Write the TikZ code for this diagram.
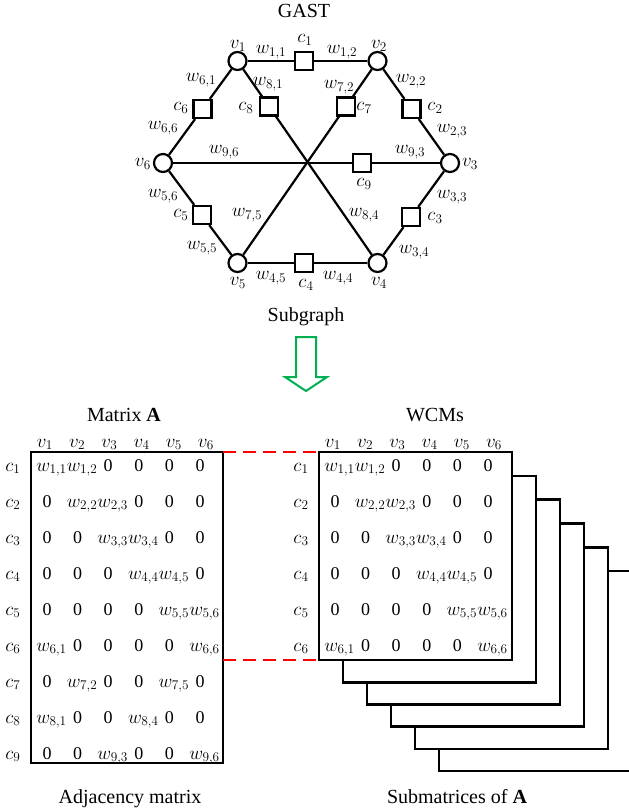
\RequirePackage{fix-cm}
\documentclass[tikz,border=0pt]{standalone}
\usepackage{fontspec}
\setmainfont{Liberation Serif}
\usetikzlibrary{calc}
\definecolor{agreen}{RGB}{0,176,80}
\definecolor{dred}{RGB}{255,0,0}
\newcommand{\wsub}[2]{w_{#1,#2}}
\begin{document}
\begin{tikzpicture}[x=1pt,y=-1pt,
  vnode/.style={circle,draw,line width=2.2pt,minimum size=18pt,inner sep=0pt,fill=white},
  cnode/.style={rectangle,draw,line width=2.2pt,minimum size=18pt,inner sep=0pt,fill=white},
  edge/.style={line width=2.2pt},
  lbl/.style={inner sep=0pt,font=\fontsize{19}{21}\selectfont},
  ttl/.style={inner sep=0pt,anchor=base,font=\fontsize{20}{24}\selectfont},
  ent/.style={inner sep=0pt,anchor=base,font=\fontsize{19}{21}\selectfont},
  zer/.style={inner sep=0pt,anchor=base,font=\fontsize{18}{20}\selectfont},
  mbox/.style={draw,line width=2.6pt,inner sep=0pt,outer sep=0pt,anchor=north west,fill=white},
  link/.style={draw=dred,line width=2.5pt,dash pattern=on 13pt off 7pt},
  barrow/.style={draw=agreen,line width=2pt,line join=miter}
]
\useasboundingbox (0,0) rectangle (629,812);
\clip (0,0) rectangle (629,812);

% ---------- graph ----------
\node[vnode] (v1) at (237.5,61) {};
\node[vnode] (v2) at (377.5,61) {};
\node[vnode] (v3) at (450,163) {};
\node[vnode] (v4) at (377.5,263) {};
\node[vnode] (v5) at (237.5,263) {};
\node[vnode] (v6) at (163,163) {};
\node[cnode] (c1) at ($(v1)!0.475!(v2)$) {};
\node[cnode] (c2) at ($(v2)!0.47!(v3)$) {};
\node[cnode] (c3) at ($(v3)!0.54!(v4)$) {};
\node[cnode] (c4) at ($(v5)!0.475!(v4)$) {};
\node[cnode] (c5) at ($(v6)!0.52!(v5)$) {};
\node[cnode] (c6) at ($(v1)!0.47!(v6)$) {};
\node[cnode] (c7) at ($(v2)!0.225!(v5)$) {};
\node[cnode] (c8) at ($(v1)!0.225!(v4)$) {};
\node[cnode] (c9) at ($(v6)!0.693!(v3)$) {};

\draw[edge] (v1) -- (c1) -- (v2);
\draw[edge] (v2) -- (c2) -- (v3);
\draw[edge] (v3) -- (c3) -- (v4);
\draw[edge] (v4) -- (c4) -- (v5);
\draw[edge] (v5) -- (c5) -- (v6);
\draw[edge] (v6) -- (c6) -- (v1);
\draw[edge] (v1) -- (c8) -- (v4);
\draw[edge] (v2) -- (c7) -- (v5);
\draw[edge] (v6) -- (c9) -- (v3);

% labels
\node[lbl] (lv1) at (238,46) {$v_1$};
\node[lbl] (lv2) at (379,46) {$v_2$};
\node[lbl] (lv3) at (470,164) {$v_3$};
\node[lbl] (lv4) at (379,283) {$v_4$};
\node[lbl] (lv5) at (238,283) {$v_5$};
\node[lbl] (lv6) at (143,164) {$v_6$};
\node[lbl] (lc1) at (305,40) {$c_1$};
\node[lbl] (lc2) at (435,108) {$c_2$};
\node[lbl] (lc3) at (435,218) {$c_3$};
\node[lbl] (lc4) at (306,285) {$c_4$};
\node[lbl] (lc5) at (181,215) {$c_5$};
\node[lbl] (lc6) at (181,108) {$c_6$};
\node[lbl] (lc7) at (364,108) {$c_7$};
\node[lbl] (lc8) at (246,108) {$c_8$};
\node[lbl] (lc9) at (364,184) {$c_9$};
\node[lbl] (lw11) at (271,52) {$w_{1,1}$};
\node[lbl] (lw12) at (342,52) {$w_{1,2}$};
\node[lbl] (lw61) at (201,80) {$w_{6,1}$};
\node[lbl] (lw81) at (268,84) {$w_{8,1}$};
\node[lbl] (lw72) at (339,87) {$w_{7,2}$};
\node[lbl] (lw22) at (411,81) {$w_{2,2}$};
\node[lbl] (lw66) at (163,128) {$w_{6,6}$};
\node[lbl] (lw23) at (452,131) {$w_{2,3}$};
\node[lbl] (lw96) at (224,152) {$w_{9,6}$};
\node[lbl] (lw93) at (410,152) {$w_{9,3}$};
\node[lbl] (lw56) at (163,196) {$w_{5,6}$};
\node[lbl] (lw55) at (202,248) {$w_{5,5}$};
\node[lbl] (lw75) at (247,215) {$w_{7,5}$};
\node[lbl] (lw84) at (364,215) {$w_{8,4}$};
\node[lbl] (lw33) at (452,197) {$w_{3,3}$};
\node[lbl] (lw34) at (414,252) {$w_{3,4}$};
\node[lbl] (lw45) at (271,278) {$w_{4,5}$};
\node[lbl] (lw44) at (338,278) {$w_{4,4}$};

\node[ttl] (tgast) at (304,17) {GAST};
\node[ttl] (tsub) at (306,321) {Subgraph};

% ---------- block arrow ----------
\draw[barrow] (296,337) -- (316,337) -- (316,377) -- (327,377) -- (306,391)
  -- (285,377) -- (296,377) -- cycle;

% ---------- matrices ----------
\node[ttl] (tma) at (124,421) {Matrix \textbf{A}};
\node[ttl] (twcm) at (435,421) {WCMs};
\node[ttl] (tadj) at (130,803) {Adjacency matrix};
\node[ttl] (tsubm) at (457,803) {Submatrices of \textbf{A}};

\node[mbox,minimum width=192pt,minimum height=311pt] (Abox) at (31,452) {};
\foreach \k in {5,4,3,2,1} {
  \pgfmathsetmacro\hh{208-1.6*\k}
  \node[mbox,minimum width=193pt,minimum height=\hh pt] (W\k) at ({319+24*\k},{452+23.8*\k}) {};
}
\node[mbox,minimum width=193pt,minimum height=208pt] (W0) at (319,452) {};

\foreach \pre/\ox/\nr in {A/0/9, W/288/6} {
  \foreach \j in {1,...,6} {
    \node[ent] (\pre h\j) at ({45+\ox+32.2*(\j-1)},447) {$v_{\j}$};
  }
  \foreach \row [count=\i] in {{11,12,0,0,0,0},{0,22,23,0,0,0},{0,0,33,34,0,0},
      {0,0,0,44,45,0},{0,0,0,0,55,56},{61,0,0,0,0,66},{0,72,0,0,75,0},
      {81,0,0,84,0,0},{0,0,93,0,0,96}} {
    \ifnum\i>\nr\relax\else
      \node[ent] (\pre r\i) at ({13+\ox},{471+36*(\i-1)}) {$c_{\i}$};
      \foreach \e [count=\j] in \row {
        \ifnum\e=0
          \node[zer] (\pre-\i-\j) at ({47+\ox+30.6*(\j-1)},{471+36*(\i-1)}) {0};
        \else
          \node[ent] (\pre-\i-\j) at ({51.5+\ox+30.6*(\j-1)},{471+36*(\i-1)}) {$\expandafter\wsub\e$};
        \fi
      }
    \fi
  }
}

\coordinate (Alow) at (Abox.north east |- W0.south west);
\draw[link] (Abox.north east) -- (W0.north west);
\draw[link] (Alow) -- (W0.south west);
\end{tikzpicture}
\end{document}
